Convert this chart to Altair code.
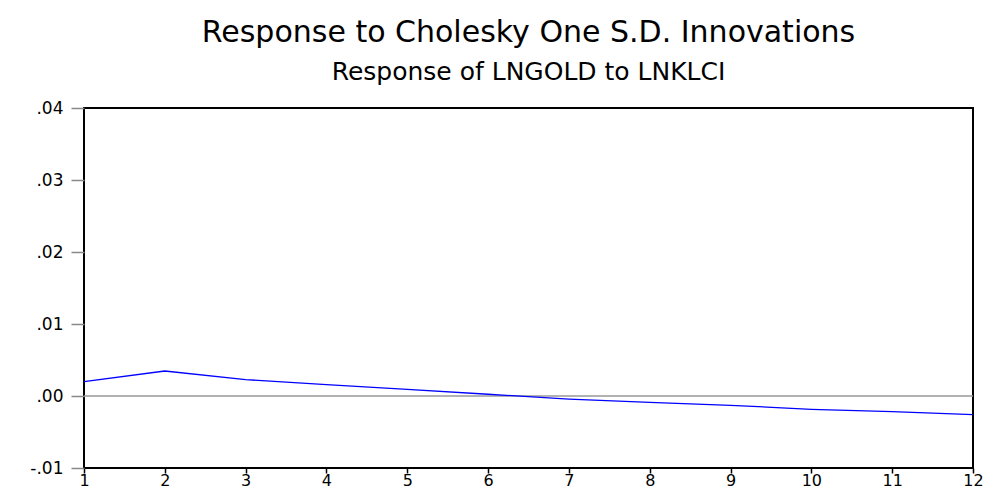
import altair as alt
import pandas as pd

periods = [1, 2, 3, 4, 5, 6, 7, 8, 9, 10, 11, 12]
response = [0.00200, 0.00347, 0.00228, 0.00158, 0.00093, 0.00024,
            -0.00042, -0.00088, -0.00129, -0.00185, -0.00218, -0.00258]
y_ticks = [-0.01, 0.00, 0.01, 0.02, 0.03, 0.04]
zero_level = [0.0]

FONT = "DejaVu Sans"

df = pd.DataFrame({"period": periods, "response": response})
zero_df = pd.DataFrame({"level": zero_level})

x_enc = alt.X(
    "period:Q",
    scale=alt.Scale(domain=[1, 12], nice=False, zero=False),
    axis=alt.Axis(
        values=periods, title=None, grid=False, domain=False,
        tickColor="black", tickSize=5, tickWidth=1.5,
        labelFont=FONT, labelFontSize=16, labelColor="black",
        labelPadding=-1, labelFlush=False,
    ),
)
y_scale = alt.Scale(domain=[-0.01, 0.04], nice=False, zero=False)
y_axis = alt.Axis(
    values=y_ticks, title=None, grid=False, domain=False,
    labelExpr="replace(replace(format(datum.value, '.2f'), '0.', '.'), '\u2212', '-')",
    tickColor="#888888", tickSize=13, tickWidth=1.5,
    labelFont=FONT, labelFontSize=17, labelColor="black",
    labelPadding=8,
)

zero_rule = alt.Chart(zero_df).mark_rule(color="#999999", strokeWidth=1.5).encode(
    y=alt.Y("level:Q", scale=y_scale, axis=y_axis)
)

line = alt.Chart(df).mark_line(color="#0000FF", strokeWidth=1.3).encode(
    x=x_enc,
    y=alt.Y("response:Q", scale=y_scale, axis=y_axis),
)

chart = alt.layer(zero_rule, line).properties(
    width=889,
    height=360,
    title=alt.TitleParams(
        text="Response to Cholesky One S.D. Innovations",
        subtitle="Response of LNGOLD to LNKLCI",
        font=FONT, fontSize=30, fontWeight="normal", color="black",
        subtitleFont=FONT, subtitleFontSize=25, subtitleColor="black",
        subtitlePadding=12, anchor="middle", offset=14,
    ),
    autosize=alt.AutoSizeParams(type="none"),
    padding={"left": 76, "top": 100, "right": 11, "bottom": 24},
    background="white",
).configure_view(
    stroke="black", strokeWidth=2
)

chart.save("out.html", embed_options={"renderer": "svg", "actions": False})
